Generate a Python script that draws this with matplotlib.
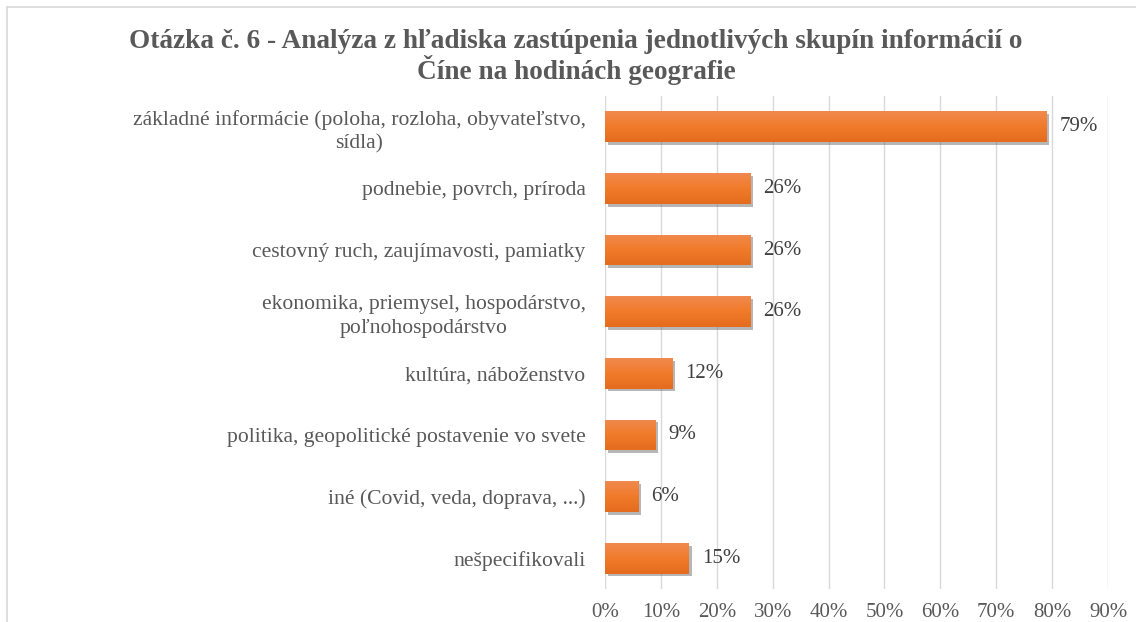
import numpy as np
import matplotlib
matplotlib.use('Agg')
from matplotlib import pyplot as plt
from matplotlib import patheffects as pe
from matplotlib.lines import Line2D

plt.rcParams['font.family'] = ['Liberation Serif', 'DejaVu Serif']

# categories (top to bottom) and share of answers in %
categories = [
    'základné informácie (poloha, rozloha, obyvateľstvo,\nsídla)',
    'podnebie, povrch, príroda',
    'cestovný ruch, zaujímavosti, pamiatky',
    'ekonomika, priemysel, hospodárstvo,\npoľnohospodárstvo',
    'kultúra, náboženstvo',
    'politika, geopolitické postavenie vo svete',
    'iné (Covid, veda, doprava, ...)',
    'nešpecifikovali',
]
values = [79, 26, 26, 26, 12, 9, 6, 15]
x_ticks = [0, 10, 20, 30, 40, 50, 60, 70, 80, 90]

title = ('Otázka č. 6 - Analýza z hľadiska zastúpenia jednotlivých skupín informácií o\n'
         'Číne na hodinách geografie')

W, H = 1136, 622
fig = plt.figure(figsize=(W / 100, H / 100), dpi=100)
ax = fig.add_axes([605 / W, 1 - 589 / H, (1108 - 605) / W, (589 - 96) / H])

pos = np.arange(len(categories))
bars = ax.barh(pos, values, height=0.5, color='#ED7D31', zorder=3)

# gradient fill + soft shadow like the Excel style
grad = np.linspace(0, 1, 50).reshape(-1, 1)
cmap = matplotlib.colors.LinearSegmentedColormap.from_list('og', ['#F18A4E', '#F07A2A', '#E56C1E'])
for b in bars:
    b.set_path_effects([pe.SimplePatchShadow(offset=(2, -2), shadow_rgbFace='#6f6f6f', alpha=0.5), pe.Normal()])
    x0, y0 = b.get_x(), b.get_y()
    im = ax.imshow(grad, cmap=cmap, aspect='auto', zorder=4,
                   extent=(x0, x0 + b.get_width(), y0 + b.get_height(), y0))
    im.set_clip_path(b)

for p, v in zip(pos, values):
    ax.text(v + 2.3, p, f'{v}%', va='center', ha='left', fontsize=15, color='#404040', zorder=5)

ax.set_xlim(0, 90)
ax.set_ylim(len(categories) - 0.5, -0.5)
ax.set_xticks(x_ticks)
ax.set_xticklabels([f'{t}%' for t in x_ticks], fontsize=15, color='#595959')
ax.set_yticks(pos)
ax.set_yticklabels(categories, fontsize=15.6, color='#595959', multialignment='center',
                   linespacing=1.35)
ax.tick_params(axis='both', length=0)
ax.tick_params(axis='x', pad=10)
ax.tick_params(axis='y', pad=14)
ax.grid(axis='x', color='#D9D9D9', linewidth=1, zorder=0)
for s in ax.spines.values():
    s.set_visible(False)

fig.text(0.507, 1 - 57 / H, title, ha='center', va='center', fontsize=19.6,
         fontweight='bold', color='#595959', linespacing=1.08)

# chart area border (only top and left visible in the crop)
fig.add_artist(Line2D([7 / W, 1], [1 - 7 / H, 1 - 7 / H], color='#D9D9D9', lw=1.2))
fig.add_artist(Line2D([7 / W, 7 / W], [0, 1 - 7 / H], color='#D9D9D9', lw=1.2))

fig.savefig('out.png', dpi=100)
